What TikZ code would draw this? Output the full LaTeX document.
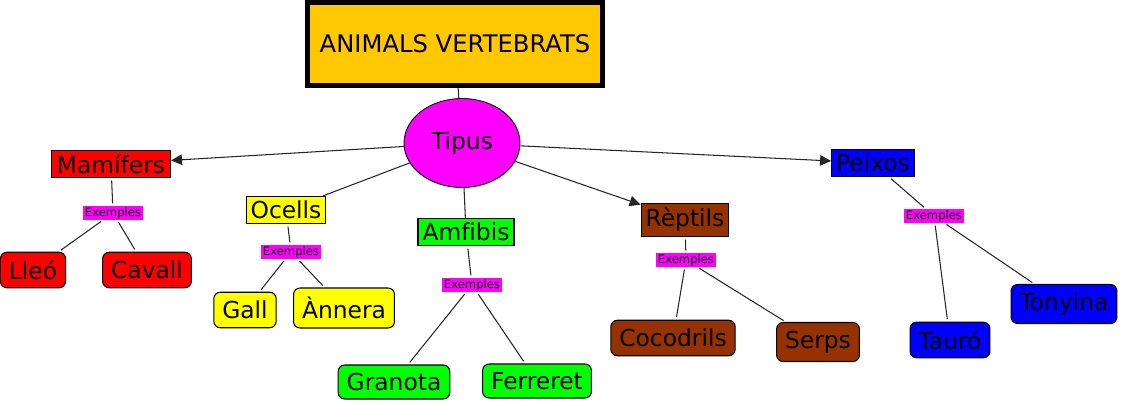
\documentclass[tikz,border=0pt]{standalone}
\usepackage{fontspec}
\setmainfont{DejaVu Sans}[Ligatures=NoCommon]
\usetikzlibrary{arrows.meta,shapes.geometric}
\definecolor{titleF}{RGB}{255,200,0}
\definecolor{mamF}{RGB}{255,0,0}
\definecolor{ocF}{RGB}{255,255,0}
\definecolor{amfF}{RGB}{0,255,0}
\definecolor{repF}{RGB}{150,50,0}
\definecolor{peixF}{RGB}{0,0,255}
\definecolor{linkF}{RGB}{255,0,255}
\tikzset{
  titlebox/.style={rectangle,draw=black,line width=1mm,fill=titleF,minimum width=59mm,
    minimum height=16.6mm,font=\fontsize{13.8}{16}\selectfont},
  tipo/.style={ellipse,draw=black,line width=0.5pt,fill=linkF,minimum width=23.2mm,
    minimum height=17.8mm,font=\fontsize{13.3}{16}\selectfont},
  cat/.style={rectangle,draw=black,line width=0.6pt,inner xsep=0.9mm,inner ysep=0pt,
    minimum height=5.4mm,font=\fontsize{13.3}{16}\selectfont},
  anim/.style={rectangle,rounded corners=1.3mm,draw=black,line width=0.6pt,inner xsep=1.7mm,
    inner ysep=0pt,minimum height=7.1mm,font=\fontsize{13.3}{16}\selectfont},
  lnk/.style={rectangle,fill=linkF,inner xsep=0.3mm,inner ysep=0.2mm,
    font=\fontsize{6.6}{7}\selectfont},
  con/.style={line width=0.6pt,draw=black!85},
  arr/.style={con,-{Triangle[length=2.2mm,width=2.1mm]}},
}

\begin{document}
\begin{tikzpicture}[x=0.02cm,y=-0.02cm]
\useasboundingbox (0,0) rectangle (1123,402);
% title and types
\node[titlebox] (title) at (455,44) {ANIMALS VERTEBRATS};
\node[tipo] (tipus) at (462,143) {Tipus};
% classes
\node[cat,fill=mamF,minimum width=23.8mm] (mam) at (111,164) {Mamífers};
\node[cat,fill=ocF] (ocells) at (286,210) {Ocells};
\node[cat,fill=amfF] (amf) at (466,232) {Amfibis};
\node[cat,fill=repF,minimum height=6.6mm] (rep) at (685,220) {Rèptils};
\node[cat,fill=peixF] (peix) at (873,163) {Peixos};
% linking words
\node[lnk] (exMam) at (113,213) {Exemples};
\node[lnk] (exOc) at (291,252) {Exemples};
\node[lnk] (exAmf) at (472,285) {Exemples};
\node[lnk] (exRep) at (686,260) {Exemples};
\node[lnk] (exPeix) at (934,216) {Exemples};
% animals
\node[anim,fill=mamF] (lleo) at (33,270) {Lleó};
\node[anim,fill=mamF] (cavall) at (147,270) {Cavall};
\node[anim,fill=ocF] (gall) at (245,310) {Gall};
\node[anim,fill=ocF,minimum height=8mm] (annera) at (344,308) {Ànnera};
\node[anim,fill=amfF,minimum height=6.8mm] (granota) at (394,382) {Granota};
\node[anim,fill=amfF,minimum height=6.8mm] (ferreret) at (537,381) {Ferreret};
\node[anim,fill=repF] (cocodrils) at (673,338) {Cocodrils};
\node[anim,fill=repF,minimum height=7.8mm] (serps) at (818,342) {Serps};
\node[anim,fill=peixF] (tauro) at (950,340) {Tauró};
\node[anim,fill=peixF,minimum height=7.8mm] (tonyina) at (1064,304) {Tonyina};
% connectors
\draw[con] (title) -- (tipus);
\draw[arr] (tipus) -- (mam);
\draw[con] (tipus) -- (ocells);
\draw[con] (tipus) -- (amf);
\draw[arr] (tipus) -- (rep);
\draw[arr] (tipus) -- (peix);
\foreach \a/\b/\c/\d in {mam/exMam/lleo/cavall,ocells/exOc/gall/annera,
  amf/exAmf/granota/ferreret,rep/exRep/cocodrils/serps,peix/exPeix/tauro/tonyina}{
  \draw[con,shorten <=1.5pt,shorten >=1.5pt] (\a) -- (\b);
  \draw[con,shorten <=1.5pt,shorten >=1.5pt] (\b) -- (\c);
  \draw[con,shorten <=1.5pt,shorten >=1.5pt] (\b) -- (\d);
}
\end{tikzpicture}
\end{document}
